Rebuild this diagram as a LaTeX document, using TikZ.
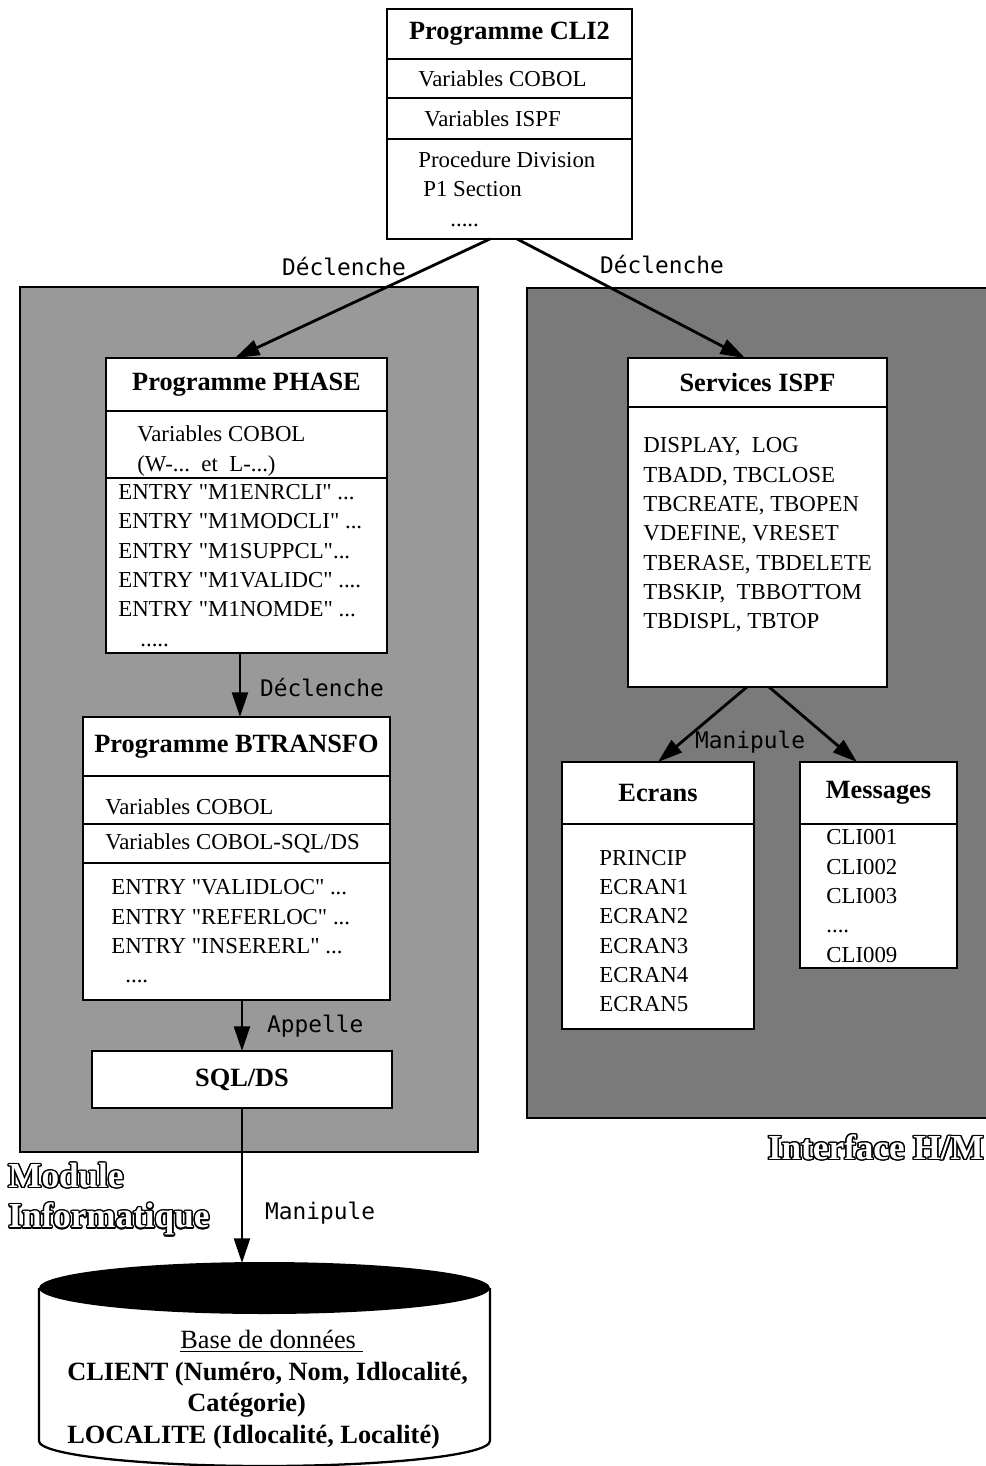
\documentclass[tikz,border=0pt]{standalone}
\usepackage{fontspec}
\setmainfont{Liberation Serif}[Ligatures=TeXOff]
\setmonofont{DejaVu Sans Mono}
\usepackage{contour}
\contourlength{0.8pt}
\usetikzlibrary{arrows.meta}
\usetikzlibrary{positioning}

\newcommand{\hollow}[1]{\textcolor{white}{\contour{black}{#1}}}

\tikzset{
  part/.style={draw, line width=1.3pt, fill=white, outer sep=0pt, inner sep=0pt, minimum width=#1},
  head/.style={font=\fontsize{15}{18}\selectfont\bfseries},
  txt/.style={anchor=west, inner sep=0pt, align=left, font=\fontsize{13}{16.7}\selectfont},
  lbl/.style={inner sep=1pt, font=\fontsize{13}{15}\selectfont\ttfamily},
  zone/.style={draw, line width=1pt},
  arr/.style={line width=1.6pt, -{Triangle[length=14pt,width=9pt]}},
}

\begin{document}
\begin{tikzpicture}[x=0.02cm, y=-0.02cm]
\useasboundingbox (0,0) rectangle (986,1466);
\draw[zone, fill=black!40] (20,287) rectangle (478,1152);
\draw[zone, fill=black!52] (527,288) rectangle (995,1118);

\node[part=4.9cm, minimum height=1cm, head, anchor=north west] (cli2) at (387,9) {Programme CLI2};
\node[part=4.9cm, minimum height=0.78cm, below=0pt of cli2] (cli2cob) {};
\node[part=4.9cm, minimum height=0.82cm, below=0pt of cli2cob] (cli2ispf) {};
\node[part=4.9cm, minimum height=2cm, below=0pt of cli2ispf] (cli2proc) {};
\node[txt] (cli2cobT) at ([xshift=0.62cm]cli2cob.west) {Variables COBOL};
\node[txt] (cli2ispfT) at ([xshift=0.74cm]cli2ispf.west) {Variables ISPF};
\node[txt] (cli2procT) at ([xshift=0.62cm]cli2proc.west) {Procedure Division\\\hspace*{0.1cm}P1 Section\\\hspace*{0.64cm}.....};

\node[part=5.62cm, minimum height=1.06cm, head, anchor=north west] (phase) at (106,358) {Programme PHASE};
\node[part=5.62cm, minimum height=1.34cm, below=0pt of phase] (phasevar) {};
\node[part=5.62cm, minimum height=3.5cm, below=0pt of phasevar] (phaseent) {};
\node[txt] (phasevarT) at ([xshift=0.62cm, yshift=-0.13cm]phasevar.west) {Variables COBOL\\(W-...\ \ et\ \ L-...)};
\node[txt] (phaseentT) at ([xshift=0.24cm]phaseent.west) {ENTRY "M1ENRCLI" ...\\ENTRY "M1MODCLI" ...\\ENTRY "M1SUPPCL"...\\ENTRY "M1VALIDC" ....\\ENTRY "M1NOMDE" ...\\\hspace*{0.44cm}.....};

\node[part=6.14cm, minimum height=1.18cm, head, anchor=north west] (btr) at (83,717) {Programme BTRANSFO};
\node[part=6.14cm, minimum height=0.96cm, below=0pt of btr] (btrcob) {};
\node[part=6.14cm, minimum height=0.78cm, below=0pt of btrcob] (btrsql) {};
\node[part=6.14cm, minimum height=2.74cm, below=0pt of btrsql] (btrent) {};
\node[txt] (btrcobT) at ([xshift=0.44cm, yshift=-0.14cm]btrcob.west) {Variables COBOL};
\node[txt] (btrsqlT) at ([xshift=0.44cm]btrsql.west) {Variables COBOL-SQL/DS};
\node[txt] (btrentT) at ([xshift=0.56cm]btrent.west) {ENTRY "VALIDLOC" ...\\ENTRY "REFERLOC" ...\\ENTRY "INSERERL" ...\\\hspace*{0.28cm}....};

\node[part=6cm, minimum height=1.14cm, head, anchor=north west] (sql) at (92,1051) {SQL/DS};

\node[part=5.18cm, minimum height=0.98cm, head, anchor=north west] (ispf) at (628,358) {Services ISPF};
\node[part=5.18cm, minimum height=5.6cm, below=0pt of ispf] (ispflist) {};
\node[txt] (ispflistT) at ([xshift=0.3cm, yshift=0.24cm]ispflist.west) {DISPLAY,\ \ LOG\\TBADD, TBCLOSE\\TBCREATE, TBOPEN\\VDEFINE, VRESET\\TBERASE, TBDELETE\\TBSKIP,\ \ TBBOTTOM\\TBDISPL, TBTOP};

\node[part=3.84cm, minimum height=1.24cm, head, anchor=north west] (ecr) at (562,762) {Ecrans};
\node[part=3.84cm, minimum height=4.1cm, below=0pt of ecr] (ecrlist) {};
\node[txt] (ecrlistT) at ([xshift=0.74cm, yshift=-0.09cm]ecrlist.west) {PRINCIP\\ECRAN1\\ECRAN2\\ECRAN3\\ECRAN4\\ECRAN5};

\node[part=3.14cm, minimum height=1.24cm, head, anchor=north west] (msg) at (800,762) {Messages};
\node[part=3.14cm, minimum height=2.88cm, below=0pt of msg] (msglist) {};
\node[txt] (msglistT) at ([xshift=0.52cm]msglist.west) {CLI001\\CLI002\\CLI003\\....\\CLI009};

% base de donnees
\coordinate (dbtop) at (247,1263);
\draw[line width=1.3pt, fill=white] (39,1288) -- (39,1441) arc[start angle=180, end angle=360, x radius=4.51cm, y radius=0.5cm] -- (490,1288);
\fill (264.5,1288) ellipse [x radius=4.51cm, y radius=0.52cm];
\node[anchor=north west, align=left, inner sep=0pt, font=\fontsize{15}{18}\selectfont\bfseries] (dbT) at (67,1330) {\hspace*{2.26cm}{\mdseries\underline{Base de données\ }}\\CLIENT (Numéro, Nom, Idlocalité,\\\hspace*{2.4cm}Catégorie)\\LOCALITE (Idlocalité, Localité)};

\draw[arr] ([xshift=-0.39cm]cli2proc.south) -- ([xshift=-0.23cm]phase.north);
\draw[arr] ([xshift=0.15cm]cli2proc.south) -- ([xshift=-0.25cm]ispf.north);
\draw[arr] ([xshift=-0.13cm]phaseent.south) -- ([xshift=-0.13cm]phaseent.south |- btr.north);
\draw[arr] (btrent.south -| sql.north) -- (sql.north);
\draw[arr] (sql.south) -- (sql.south |- dbtop);
\draw[arr] ([xshift=-0.21cm]ispflist.south) -- (ecr.north);
\draw[arr] ([xshift=0.23cm]ispflist.south) -- ([xshift=-0.43cm]msg.north);

\node[lbl] (decl1) at (344,267) {Déclenche};
\node[lbl] (decl2) at (662,265) {Déclenche};
\node[lbl, anchor=west] (decl3) at (258,688) {Déclenche};
\node[lbl, anchor=west] (appel) at (265,1026) {Appelle};
\node[lbl] (manip1) at (750,742) {Manipule};
\node[lbl, anchor=west] (manip2) at (263,1213) {Manipule};

\node[anchor=west, align=left, inner sep=0pt, font=\fontsize{20}{23}\selectfont\bfseries] (modinfo) at (8,1200) {\hollow{Module}\\\hollow{Informatique}};
\node[anchor=east, inner sep=0pt, font=\fontsize{20}{23}\selectfont\bfseries] (ihm) at (984,1148) {\hollow{Interface H/M}};
\end{tikzpicture}
\end{document}
